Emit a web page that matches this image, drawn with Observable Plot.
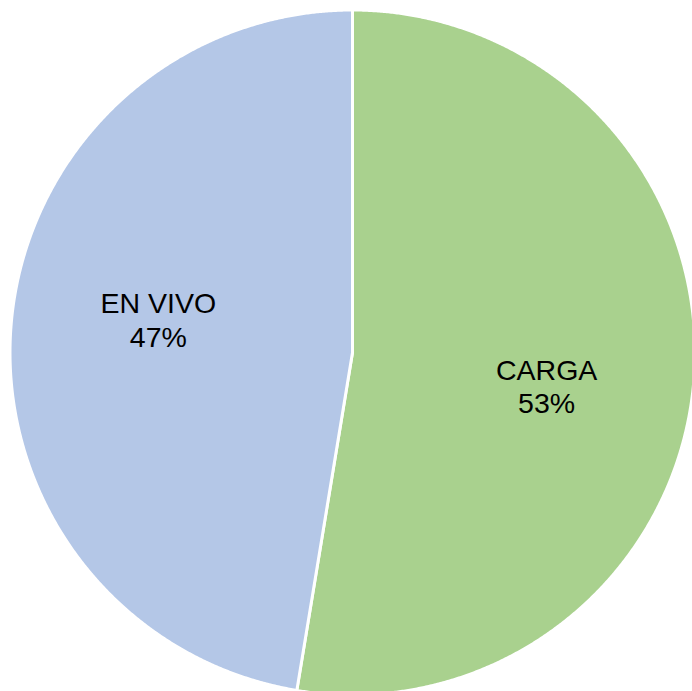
<!DOCTYPE html>
<html>
<head>
<meta charset="utf-8">
<script src="https://cdn.jsdelivr.net/npm/d3@7"></script>
<script src="https://cdn.jsdelivr.net/npm/@observablehq/plot@0.6"></script>
<style>
  html, body { margin: 0; padding: 0; background: #ffffff; overflow: hidden; }
  #chart svg { display: block; }
</style>
</head>
<body>
<div id="chart"></div>
<script>
// ---- data ----
const categories = ["CARGA", "EN VIVO"];
const values = [52.6, 47.4];

// ---- styles ----
const sliceColors = ["#A9D18E", "#B4C7E7"];
const W = 692, H = 691;
const cx = 352, cy = 352, R = 342.5;
const labelRadius = 0.575;
const labelAngleOffset = 5.0 * Math.PI / 180;

const rows = categories.map((c, i) => ({category: c, value: values[i]}));
const total = d3.sum(values);
const arcs = d3.pie().sort(null).value(d => d.value)(rows);

// polygon outline of each slice (unit circle, y up), built from the pie angles
const slicePts = [];
for (const a of arcs) {
  const cat = a.data.category;
  slicePts.push({category: cat, x: 0, y: 0});
  const steps = Math.max(2, Math.ceil((a.endAngle - a.startAngle) / (Math.PI / 720)));
  for (let k = 0; k <= steps; k++) {
    const t = a.startAngle + (a.endAngle - a.startAngle) * k / steps;
    slicePts.push({category: cat, x: Math.sin(t), y: Math.cos(t)});
  }
  slicePts.push({category: cat, x: 0, y: 0});
}

const labels = arcs.map(a => {
  const m = (a.startAngle + a.endAngle) / 2 + labelAngleOffset;
  return {
    category: a.data.category,
    x: Math.sin(m) * labelRadius,
    y: Math.cos(m) * labelRadius,
    text: a.data.category + "\n" + Math.round(a.data.value / total * 100) + "%"
  };
});

const chart = Plot.plot({
  width: W,
  height: H,
  margin: 0,
  style: {background: "#ffffff", overflow: "hidden"},
  x: {domain: [-1, 1], range: [cx - R, cx + R], axis: null},
  y: {domain: [-1, 1], range: [cy + R, cy - R], axis: null},
  color: {domain: categories, range: sliceColors},
  marks: [
    Plot.line(slicePts, {
      x: "x", y: "y", z: "category",
      fill: "category",
      stroke: "#ffffff",
      strokeWidth: 3,
      strokeLinejoin: "round",
      curve: "linear"
    }),
    Plot.text(labels, {
      x: "x", y: "y", text: "text",
      fill: "#000000",
      fontSize: 28.5,
      fontFamily: "'Liberation Sans', Arial, sans-serif",
      lineHeight: 1.17,
      textAnchor: "middle"
    })
  ]
});

document.getElementById("chart").appendChild(chart);
</script>
</body>
</html>
